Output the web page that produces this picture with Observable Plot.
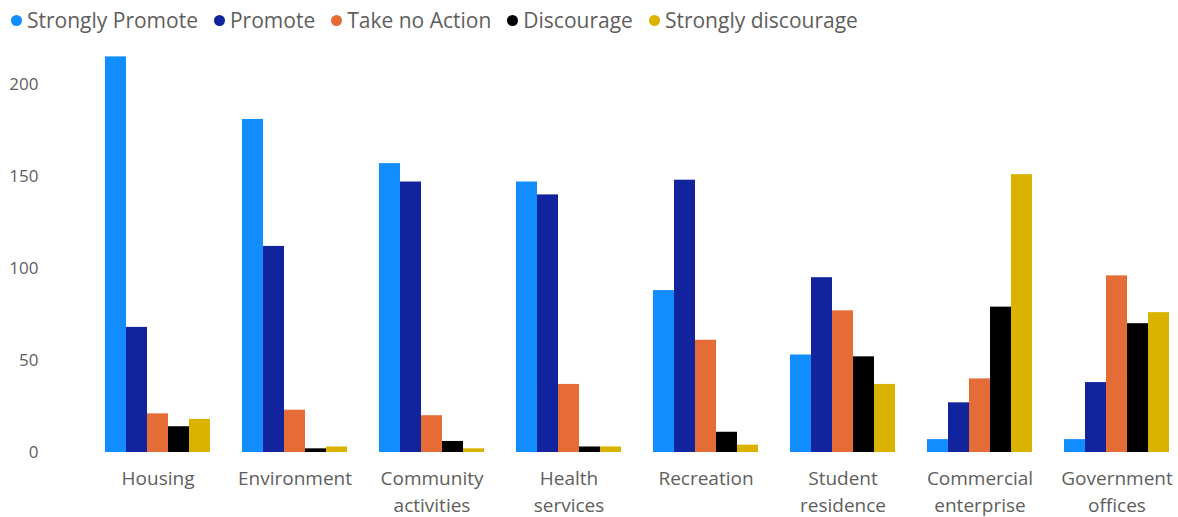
<!DOCTYPE html>
<html>
<head>
<meta charset="utf-8">
<script src="https://cdn.jsdelivr.net/npm/d3@7"></script>
<script src="https://cdn.jsdelivr.net/npm/@observablehq/plot@0.6"></script>
<style>
  html, body { margin: 0; padding: 0; background: #fff; }
  body { width: 1178px; height: 517px; overflow: hidden; font-family: "Segoe UI", "Open Sans", sans-serif; }
  #legend { height: 40px; display: flex; align-items: center; padding-left: 11px; box-sizing: border-box; font-size: 21px; color: #605E5C; }
  .item { display: flex; align-items: center; margin-right: 16px; white-space: nowrap; }
  .dot { width: 11px; height: 11px; border-radius: 50%; margin-right: 5px; flex: none; }
</style>
</head>
<body>
<div id="legend"></div>
<div id="chart"></div>
<script>
const categories = ["Housing", "Environment", "Community activities", "Health services", "Recreation", "Student residence", "Commercial enterprise", "Government offices"];
const tickLabels = ["Housing", "Environment", "Community\nactivities", "Health\nservices", "Recreation", "Student\nresidence", "Commercial\nenterprise", "Government\noffices"];
const series = ["Strongly Promote", "Promote", "Take no Action", "Discourage", "Strongly discourage"];
const colors = ["#118DFF", "#12239E", "#E66C37", "#000000", "#D9B300"];
const stronglyPromote   = [215, 181, 157, 147, 88, 53, 7, 7];
const promote           = [68, 112, 147, 140, 148, 95, 27, 38];
const takeNoAction      = [21, 23, 20, 37, 61, 77, 40, 96];
const discourage        = [14, 2, 6, 3, 11, 52, 79, 70];
const stronglyDiscourage = [18, 3, 2, 3, 4, 37, 151, 76];
const yTicks = [0, 50, 100, 150, 200];

const seriesValues = [stronglyPromote, promote, takeNoAction, discourage, stronglyDiscourage];
const data = [];
categories.forEach((c, i) => {
  series.forEach((s, j) => data.push({category: c, series: s, value: seriesValues[j][i]}));
});

const legend = document.getElementById("legend");
series.forEach((s, j) => {
  const item = document.createElement("div");
  item.className = "item";
  const dot = document.createElement("span");
  dot.className = "dot";
  dot.style.background = colors[j];
  const label = document.createElement("span");
  label.textContent = s;
  item.appendChild(dot);
  item.appendChild(label);
  legend.appendChild(item);
});

const labelOf = new Map(categories.map((c, i) => [c, tickLabels[i]]));

const chart = Plot.plot({
  width: 1178,
  height: 477,
  marginLeft: 104,
  marginRight: 8,
  marginTop: 7.2,
  marginBottom: 65,
  style: {fontFamily: "'Segoe UI', 'Open Sans', sans-serif", color: "#605E5C", background: "#fff"},
  fx: {domain: categories, paddingInner: 0.22, paddingOuter: 0},
  x: {domain: series, padding: 0, axis: null},
  y: {domain: [0, 220], axis: null},
  color: {domain: series, range: colors},
  marks: [
    Plot.barY(data, {fx: "category", x: "series", y: "value", fill: "series"}),
    Plot.axisY({ticks: yTicks, tickSize: 0, tickPadding: 66, fontSize: 17, label: null}),
    Plot.axisFx({anchor: "bottom", tickSize: 0, tickPadding: 14, fontSize: 19, lineHeight: 1.4, label: null, tickFormat: d => labelOf.get(d)})
  ]
});
document.getElementById("chart").appendChild(chart);
</script>
</body>
</html>
